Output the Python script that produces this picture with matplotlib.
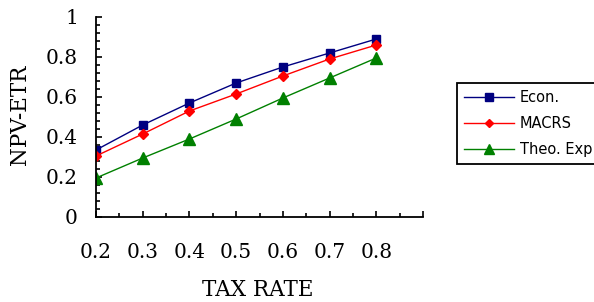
import numpy as np
import matplotlib
matplotlib.use("Agg")
import matplotlib.pyplot as plt
from matplotlib.ticker import MultipleLocator

tax_rate = [0.2, 0.3, 0.4, 0.5, 0.6, 0.7, 0.8]
econ = [0.335, 0.46, 0.57, 0.67, 0.75, 0.82, 0.89]
macrs = [0.305, 0.415, 0.53, 0.615, 0.705, 0.79, 0.86]
theo_exp = [0.195, 0.295, 0.39, 0.49, 0.595, 0.695, 0.795]
series_names = ["Econ.", "MACRS", "Theo. Exp."]

fig = plt.figure(figsize=(5.94, 3.02), dpi=100)
ax = fig.add_axes([96 / 594, 1 - 217 / 302, 327 / 594, 200 / 302])

ax.plot(tax_rate, econ, color="#000080", marker="s", markersize=6, linewidth=1, label=series_names[0])
ax.plot(tax_rate, macrs, color="#ff0000", marker="D", markersize=5, linewidth=1, label=series_names[1])
ax.plot(tax_rate, theo_exp, color="#008000", marker="^", markersize=8, linewidth=1, label=series_names[2])

ax.set_xlim(0.2, 0.9)
ax.set_ylim(0, 1)
ax.xaxis.set_minor_locator(MultipleLocator(0.05))
ax.yaxis.set_minor_locator(MultipleLocator(0.04))
ax.set_xticks([0.2, 0.3, 0.4, 0.5, 0.6, 0.7, 0.8, 0.9])
ax.set_xticklabels(["0.2", "0.3", "0.4", "0.5", "0.6", "0.7", "0.8", ""])
ax.set_yticks([0, 0.2, 0.4, 0.6, 0.8, 1.0])
ax.set_yticklabels(["0", "0.2", "0.4", "0.6", "0.8", "1"])

for s in ["top", "right"]:
    ax.spines[s].set_visible(False)
for s in ["left", "bottom"]:
    ax.spines[s].set_linewidth(1.3)

ax.tick_params(which="major", direction="in", length=4, width=1.2)
ax.tick_params(which="minor", direction="in", length=3, width=1.2)
ax.tick_params(axis="x", which="major", pad=19)
ax.tick_params(axis="y", which="major", pad=13)
for lbl in ax.get_xticklabels() + ax.get_yticklabels():
    lbl.set_fontfamily("DejaVu Serif")
    lbl.set_fontsize(14.5)

ax.set_xlabel("TAX RATE", fontfamily="DejaVu Serif", fontsize=15.5)
ax.set_ylabel("NPV-ETR", fontfamily="DejaVu Serif", fontsize=15.5)
ax.xaxis.set_label_coords(0.494, -0.31)
ax.yaxis.set_label_coords(-0.2, 0.51)

leg = ax.legend(loc="upper left", bbox_to_anchor=(457 / 594, 1 - 83 / 302),
                bbox_transform=fig.transFigure, borderaxespad=0,
                fancybox=False, edgecolor="black", framealpha=1,
                prop={"family": "DejaVu Sans", "size": 10.5},
                handlelength=3.4, handletextpad=0.4, labelspacing=0.75,
                borderpad=0.5, markerscale=0.85)
leg.get_frame().set_linewidth(1.3)

fig.savefig("out.png", dpi=100)
